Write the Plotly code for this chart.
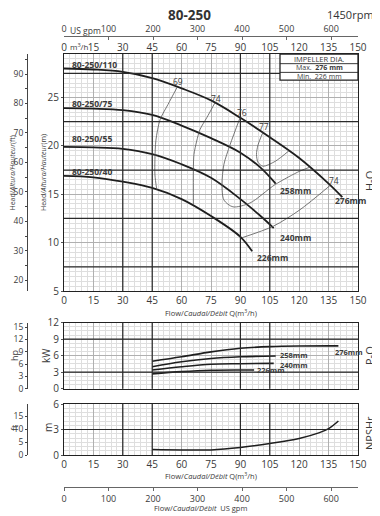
import plotly.graph_objects as go

# ---------------- data ----------------
FT = 0.3048          # m per ft
GPM = 0.227125       # m3/h per US gpm
KW_HP = 0.7457       # kW per hp

flow_ticks = [0, 15, 30, 45, 60, 75, 90, 105, 120, 135, 150]
gpm_ticks = [0, 100, 200, 300, 400, 500, 600]

# H-Q curves (Q m3/h, H m)
hq_276_q = [0, 15, 30, 45, 60, 75, 90, 105, 120, 135, 142]
hq_276_h = [28.0, 27.9, 27.65, 27.0, 25.95, 24.7, 22.9, 20.9, 18.75, 16.1, 14.7]
hq_258_q = [0, 15, 30, 45, 60, 75, 90, 100, 108]
hq_258_h = [23.9, 23.85, 23.7, 23.2, 22.1, 20.8, 19.3, 17.8, 16.1]
hq_240_q = [0, 15, 30, 45, 60, 75, 90, 100, 107]
hq_240_h = [19.9, 19.85, 19.7, 19.15, 18.1, 16.7, 14.5, 12.8, 11.5]
hq_226_q = [0, 15, 30, 45, 60, 75, 90, 96]
hq_226_h = [16.9, 16.75, 16.3, 15.65, 14.5, 12.75, 10.6, 9.1]
model_names = ["80-250/110", "80-250/75", "80-250/55", "80-250/40"]
dia_labels = ["276mm", "258mm", "240mm", "226mm"]

# efficiency iso-lines
eff69_q = [57.7, 53.1, 49.0, 46.9, 46.4, 46.4, 47.3]
eff69_h = [26.05, 24.3, 22.7, 20.6, 18.6, 17.0, 15.5]
eff74a_q = [77.0, 72.8, 69.4, 67.7, 66.3, 66.0, 66.0]
eff74a_h = [24.45, 22.9, 21.7, 20.5, 19.1, 17.5, 13.9]
eff76_q = [89.8, 84.7, 81.6, 80.6, 81.6, 86.2, 94.9, 107.7, 120.4, 125.5]
eff76_h = [22.9, 20.1, 18.1, 16.0, 14.4, 13.7, 14.1, 16.0, 17.4, 17.8]
eff77_q = [101.5, 99.0, 98.2, 99.0, 101.5, 107.7, 114.8]
eff77_h = [21.4, 20.1, 19.1, 18.3, 17.9, 18.4, 19.5]
eff74b_q = [90.7, 106.8, 120.4, 135.7]
eff74b_h = [10.5, 11.7, 13.4, 15.9]
eff_labels = ["69", "74", "76", "77", "74"]

# P-Q curves (kW)
pq_276_q = [45, 60, 75, 90, 105, 120, 140]
pq_276_p = [5.0, 5.8, 6.7, 7.35, 7.65, 7.76, 7.78]
pq_258_q = [45, 60, 75, 90, 108]
pq_258_p = [4.0, 4.9, 5.5, 5.8, 5.95]
pq_240_q = [45, 60, 75, 90, 107]
pq_240_p = [3.4, 4.0, 4.45, 4.55, 4.6]
pq_226_q = [45, 60, 75, 90, 97]
pq_226_p = [2.7, 3.1, 3.35, 3.4, 3.4]

# NPSHr (m)
npsh_q = [45, 60, 75, 90, 105, 120, 130, 135, 140]
npsh_h = [0.65, 0.6, 0.6, 0.88, 1.35, 1.95, 2.6, 3.1, 4.0]

# ---------------- layout geometry ----------------
OFF = 8   # page body margin
W, H = 380 - OFF, 516 - OFF
ML, MR, MT, MB = 12, 22, 12, 28
PW, PH = W - ML - MR, H - MT - MB


def fx(px):
    return (px - OFF - ML) / PW


def fy(py):
    return (H - MB - (py - OFF)) / PH


XDOM = [fx(64), 1.0]
FONT = "Open Sans"
TXT = "#3a3a3a"
CURVE = "#1e1e1e"
EFF = "#555555"
GRID_MID = "#b0b0b0"
GRID_DARK = "#2a2a2a"

fig = go.Figure()

for q, h in [(hq_276_q, hq_276_h), (hq_258_q, hq_258_h), (hq_240_q, hq_240_h), (hq_226_q, hq_226_h)]:
    fig.add_trace(go.Scatter(x=q, y=h, mode="lines", line=dict(color=CURVE, width=1.8, shape="spline"),
                             xaxis="x", yaxis="y", hoverinfo="skip", showlegend=False))
for q, h in [(eff69_q, eff69_h), (eff74a_q, eff74a_h), (eff76_q, eff76_h), (eff77_q, eff77_h), (eff74b_q, eff74b_h)]:
    fig.add_trace(go.Scatter(x=q, y=h, mode="lines", line=dict(color=EFF, width=0.8, shape="spline", smoothing=0.8),
                             xaxis="x", yaxis="y", hoverinfo="skip", showlegend=False))
for q, p in [(pq_276_q, pq_276_p), (pq_258_q, pq_258_p), (pq_240_q, pq_240_p), (pq_226_q, pq_226_p)]:
    fig.add_trace(go.Scatter(x=q, y=p, mode="lines", line=dict(color=CURVE, width=1.6, shape="spline"),
                             xaxis="x2", yaxis="y2", hoverinfo="skip", showlegend=False))
fig.add_trace(go.Scatter(x=npsh_q, y=npsh_h, mode="lines", line=dict(color=CURVE, width=1.5, shape="spline"),
                         xaxis="x3", yaxis="y3", hoverinfo="skip", showlegend=False))

# empty traces so that every secondary (unit-conversion) axis is registered and drawn
for xa, ya in [("x4", "y"), ("x5", "y"), ("x6", "y3"), ("x", "y4"), ("x2", "y5"), ("x3", "y6")]:
    fig.add_trace(go.Scatter(x=[], y=[], mode="lines", xaxis=xa, yaxis=ya, hoverinfo="skip", showlegend=False))

tickfont = dict(family=FONT, size=10, color=TXT)
sidefont = dict(family=FONT, size=8.5, color=TXT)
gpmfont = dict(family=FONT, size=9, color=TXT)
minor_x = dict(dtick=3, tick0=0, showgrid=True, gridcolor="#dedede", gridwidth=0.6)
base_x = dict(range=[0, 150], tickvals=flow_ticks, showgrid=True, gridcolor=GRID_MID, gridwidth=1.1,
              minor=minor_x, showline=True, mirror=True, linecolor="#222", linewidth=1.2,
              zeroline=False, ticks="", tickfont=tickfont, domain=XDOM, fixedrange=True, automargin=False)
base_y = dict(showgrid=True, gridcolor=GRID_MID, gridwidth=1, showline=True, mirror=True,
              linecolor="#222", linewidth=1.2, zeroline=False, ticks="outside", ticklen=2,
              tickcolor="#555", tickfont=tickfont, fixedrange=True, automargin=False)
conv_y = dict(anchor="free", position=fx(27), side="left", showgrid=False, showline=True, linecolor="#444",
              linewidth=1, zeroline=False, ticks="outside", ticklen=2, tickcolor="#444",
              tickfont=sidefont, fixedrange=True, automargin=False)
gpm_x = dict(range=[0, 150 / GPM], tickvals=gpm_ticks, showgrid=False, showline=True, linecolor="#666",
             linewidth=1, zeroline=False, ticks="inside", ticklen=3, tickcolor="#666",
             tickfont=gpmfont, fixedrange=True, automargin=False)

main_y_ticks = [5, 10, 15, 20, 25]
pow_y_ticks = [0, 3, 6, 9, 12]
npsh_y_ticks = [0, 3, 6]

fig.update_layout(
    width=W, height=H, margin=dict(l=ML, r=MR, t=MT, b=MB, autoexpand=False),
    paper_bgcolor="white", plot_bgcolor="white", font=dict(family=FONT, color=TXT),
    xaxis=dict(base_x, anchor="y", showticklabels=True),
    yaxis=dict(base_y, domain=[fy(291), fy(54)], range=[5, 29.5], tickvals=main_y_ticks,
               minor=dict(dtick=0.5, tick0=5, showgrid=True, gridcolor="#dedede", gridwidth=0.6)),
    xaxis2=dict(base_x, anchor="y2", showticklabels=False),
    yaxis2=dict(base_y, domain=[fy(388.7), fy(322.7)], range=[0, 12], tickvals=pow_y_ticks,
                minor=dict(dtick=0.75, tick0=0, showgrid=True, gridcolor="#dedede", gridwidth=0.6)),
    xaxis3=dict(base_x, anchor="y3", showticklabels=True),
    yaxis3=dict(base_y, domain=[fy(455), fy(404)], range=[0, 6], tickvals=npsh_y_ticks,
                minor=dict(dtick=0.5, tick0=0, showgrid=True, gridcolor="#dedede", gridwidth=0.6)),
    xaxis4=dict(overlaying="x", anchor="y", side="top", range=[0, 150], tickvals=flow_ticks,
                showgrid=False, showline=False, zeroline=False, ticks="", tickfont=tickfont,
                fixedrange=True, automargin=False),
    xaxis5=dict(gpm_x, overlaying="x", anchor="free", position=fy(36), side="top"),
    xaxis6=dict(gpm_x, overlaying="x3", anchor="free", position=fy(487), side="bottom", ticks="outside"),
    yaxis4=dict(conv_y, overlaying="y", range=[5 / FT, 29.5 / FT], tickvals=[20, 30, 40, 50, 60, 70, 80, 90],
                minor=dict(dtick=5, tick0=0, ticks="outside", ticklen=2, tickcolor="#444")),
    yaxis5=dict(conv_y, overlaying="y2", range=[0, 12 / KW_HP], tickvals=[0, 3, 6, 9, 12, 15]),
    yaxis6=dict(conv_y, overlaying="y3", range=[0, 6 / FT], tickvals=[0, 5, 10, 15]),
)

# heavy grid rules (drawn as shapes on top of the normal grid)
shapes = []
dark_q = [30, 45, 90, 105]
panels = [("x", "y", [7.5, 12.5, 17.5, 22.5, 27.5]), ("x2", "y2", [3, 9]), ("x3", "y3", [3])]
for xr, yr, ydark in panels:
    for qv in dark_q:
        shapes.append(dict(type="line", xref=xr, yref=yr + " domain", x0=qv, x1=qv, y0=0, y1=1,
                           line=dict(color=GRID_DARK, width=1.2), layer="above"))
    for v in ydark:
        shapes.append(dict(type="line", xref=xr + " domain", yref=yr, x0=0, x1=1, y0=v, y1=v,
                           line=dict(color=GRID_DARK, width=1.2), layer="above"))
# impeller box
shapes.append(dict(type="rect", xref="x", yref="y", x0=110.2, x1=150, y0=26.8, y1=29.5,
                   fillcolor="white", line=dict(color="#222", width=1.3), layer="above"))
for v in [28.5, 27.6]:
    shapes.append(dict(type="line", xref="x", yref="y", x0=110.2, x1=150, y0=v, y1=v,
                       line=dict(color="#222", width=0.9), layer="above"))
fig.update_layout(shapes=shapes)

ann = []


def A(text, x, y, xref="paper", yref="paper", size=9, xanchor="center", yanchor="middle", angle=0, color=TXT):
    ann.append(dict(text=text, x=x, y=y, xref=xref, yref=yref, showarrow=False, xanchor=xanchor,
                    yanchor=yanchor, textangle=angle, font=dict(family=FONT, size=size, color=color)))


A("<b>80-250</b>", fx(189), fy(14.5), size=13.5, color="#333")
A("1450rpm", fx(376), fy(14), size=11, color="#333", xanchor="right")
A("m<sup>3</sup>/h", fx(79), fy(46.5), size=8)
A("US gpm", fx(85), fy(30.5), size=8.5)
A("Head/<i>Altura/Hauteur</i>(ft)", fx(12.5), fy(173), size=7, angle=-90)
A("Head/<i>Altura/Hauteur</i>(m)", fx(44), fy(173), size=7, angle=-90)
A("hp", fx(14), fy(356), size=9, angle=-90)
A("kW", fx(46), fy(356), size=10, angle=-90)
A("ft", fx(14), fy(428), size=9, angle=-90)
A("m", fx(48), fy(428), size=10, angle=-90)
A("H-Q", fx(369), fy(181), size=11, angle=-90)
A("P-Q", fx(369), fy(356), size=11, angle=-90)
A("NPSHr", fx(369), fy(433), size=11, angle=-90)
A("Flow/<i>Caudal/Débit</i> Q(m<sup>3</sup>/h)", fx(211), fy(312), size=7.5)
A("Flow/<i>Caudal/Débit</i> Q(m<sup>3</sup>/h)", fx(211), fy(475), size=7.5)
A("Flow/<i>Caudal/Débit</i>  US gpm", fx(200), fy(508), size=7.5)

A("IMPELLER DIA.", 130.1, 29.02, "x", "y", size=7.5)
A("Max.  <b>276 mm</b>", 130.1, 28.06, "x", "y", size=7)
A("Min.  226 mm", 130.1, 27.2, "x", "y", size=7)

for name, hv in zip(model_names, [28.44, 24.4, 20.8, 17.33]):
    A("<b>" + name + "</b>", 3.0, hv, "x", "y", size=8.5, xanchor="left")
for lab, qv, hv in zip(dia_labels, [137.2, 109.2, 109.2, 97.4], [14.4, 15.44, 10.55, 8.48]):
    A("<b>" + lab + "</b>", qv, hv, "x", "y", size=8.5, xanchor="left")
for lab, qv, hv in zip(eff_labels, [58.2, 77.6, 90.8, 102.0, 137.8], [26.7, 24.9, 23.5, 22.0, 16.4]):
    A(lab, qv, hv, "x", "y", size=8.5)
for lab, qv, pv in zip(dia_labels, [137.0, 109.0, 109.0, 97.5], [6.7, 6.05, 4.4, 3.4]):
    A("<b>" + lab + "</b>", qv, pv, "x2", "y2", size=7.5, xanchor="left")

fig.update_layout(annotations=ann)
fig.write_html("out.html")
